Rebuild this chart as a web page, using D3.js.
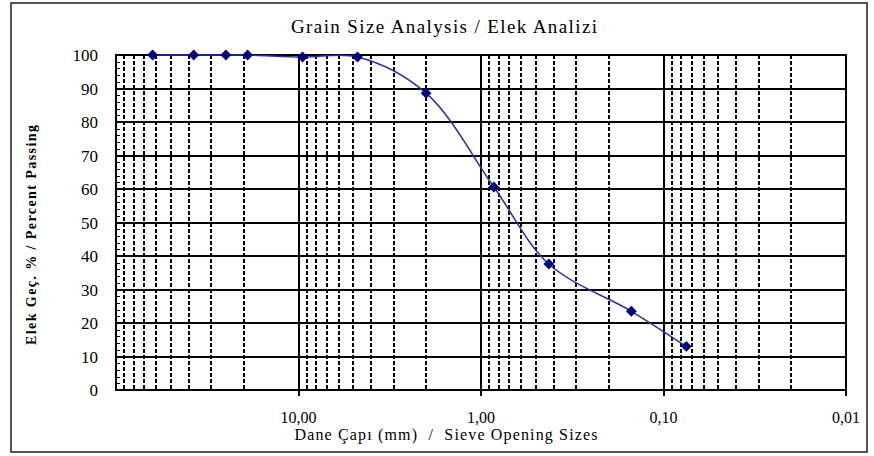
<!DOCTYPE html>
<html>
<head>
<meta charset="utf-8">
<script src="https://cdn.jsdelivr.net/npm/d3@7/dist/d3.min.js"></script>
<style>
html,body{margin:0;padding:0;background:#fff;}
svg{display:block;}
</style>
</head>
<body>
<svg id="chart" width="874" height="456"></svg>
<script>
// Data
const sieveSizes = [63, 37.5, 25, 19, 9.5, 4.75, 2, 0.85, 0.425, 0.15, 0.075];
const percentPassing = [100, 100, 100, 100, 99.4, 99.4, 88.6, 60.6, 37.6, 23.5, 13.0];
const xTickValues = [10, 1, 0.1, 0.01];
const xTickLabels = ["10,00", "1,00", "0,10", "0,01"];
const yTickValues = [0, 10, 20, 30, 40, 50, 60, 70, 80, 90, 100];
const titleText = "Grain Size Analysis / Elek Analizi";
const xTitleText = "Dane Çapı (mm)  /  Sieve Opening Sizes";
const yTitleText = "Elek Geç. % / Percent Passing";

const FONT = "'Liberation Serif', 'DejaVu Serif', 'Times New Roman', serif";
const svg = d3.select("#chart");
const L = 116, R = 846, T = 55, B = 390;

const x = d3.scaleLog().domain([100, 0.01]).range([L, R]);
const y = d3.scaleLinear().domain([0, 100]).range([B, T]);
const px = v => Math.round(v);

// outer frame
svg.append("rect").attr("x", 11).attr("y", 3).attr("width", 856).attr("height", 449)
  .attr("fill", "#fff").attr("stroke", "#555").attr("stroke-width", 2);

// title
svg.append("text").attr("x", 444).attr("y", 33).attr("text-anchor", "middle")
  .attr("font-family", FONT).attr("font-size", 19)
  .attr("textLength", 306).attr("lengthAdjust", "spacing").text(titleText);

// minor vertical dashed lines
const minorVals = [];
[100, 10, 1, 0.1].forEach(d => { for (let k = 2; k <= 9; k++) minorVals.push(d * k / 10); });
const g = svg.append("g");
g.selectAll("line.minor").data(minorVals).join("line")
  .attr("x1", d => px(x(d))).attr("x2", d => px(x(d))).attr("y1", T).attr("y2", B)
  .attr("stroke", "#000").attr("stroke-width", 2).attr("stroke-dasharray", "4,2");

// horizontal gridlines
g.selectAll("line.h").data(yTickValues).join("line")
  .attr("x1", L).attr("x2", R).attr("y1", d => px(y(d))).attr("y2", d => px(y(d)))
  .attr("stroke", "#000").attr("stroke-width", 2);

// major vertical lines
g.selectAll("line.major").data(xTickValues).join("line")
  .attr("x1", d => px(x(d))).attr("x2", d => px(x(d))).attr("y1", T).attr("y2", B + 6)
  .attr("stroke", "#000").attr("stroke-width", 2);

// y minor ticks
const yMinor = d3.range(0, 101, 2);
g.selectAll("line.ym").data(yMinor).join("line")
  .attr("x1", L).attr("x2", L + 4).attr("y1", d => px(y(d)) + 0.5).attr("y2", d => px(y(d)) + 0.5)
  .attr("stroke", "#000").attr("stroke-width", 1);

// plot border
svg.append("rect").attr("x", L).attr("y", T).attr("width", R - L).attr("height", B - T)
  .attr("fill", "none").attr("stroke", "#000").attr("stroke-width", 2);

// y tick labels
svg.selectAll("text.yl").data(yTickValues).join("text")
  .attr("x", 98).attr("y", d => y(d) + 6).attr("text-anchor", "end")
  .attr("font-family", FONT).attr("font-size", 17).text(d => d);

// x tick labels
svg.selectAll("text.xl").data(xTickValues).join("text")
  .attr("x", d => x(d)).attr("y", 423).attr("text-anchor", "middle")
  .attr("font-family", FONT).attr("font-size", 16).text((d, i) => xTickLabels[i]);

// axis titles
svg.append("text").attr("x", 446).attr("y", 440).attr("text-anchor", "middle")
  .attr("font-family", FONT).attr("font-size", 16).style("white-space", "pre")
  .attr("textLength", 303).attr("lengthAdjust", "spacing").text(xTitleText);
svg.append("text").attr("transform", "translate(36,235) rotate(-90)").attr("text-anchor", "middle")
  .attr("font-family", FONT).attr("font-size", 14).attr("font-weight", "bold")
  .attr("textLength", 220).attr("lengthAdjust", "spacing").text(yTitleText);

// data
const data = sieveSizes.map((s, i) => ({ s, p: percentPassing[i] }));
const line = d3.line().x(d => x(d.s)).y(d => y(d.p)).curve(d3.curveCatmullRom.alpha(0.5));
svg.append("path").datum(data).attr("d", line).attr("fill", "none")
  .attr("stroke", "#2b2fa8").attr("stroke-width", 1.5);
const diamond = d3.symbol().type(d3.symbolDiamond2).size(75);
svg.selectAll("path.pt").data(data).join("path")
  .attr("transform", d => `translate(${x(d.s)},${y(d.p)})`)
  .attr("d", diamond).attr("fill", "#000080");
</script>
</body>
</html>
